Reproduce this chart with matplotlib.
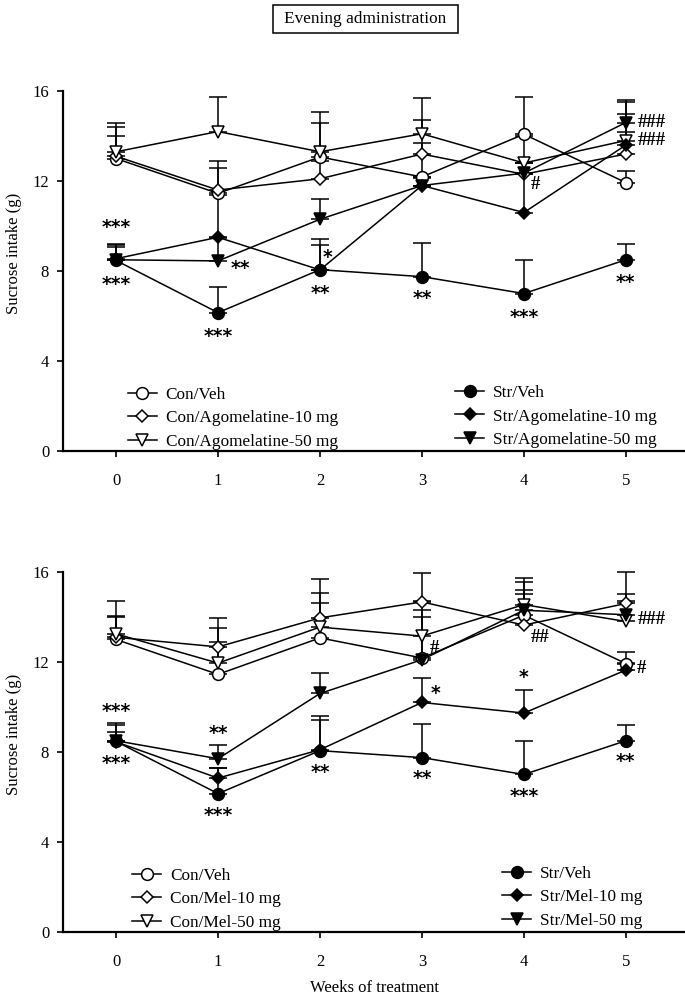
import matplotlib
matplotlib.use("Agg")
import matplotlib.pyplot as plt
from matplotlib.patches import Rectangle

plt.rcParams['font.family'] = ['Liberation Serif', 'DejaVu Serif']

weeks = [0, 1, 2, 3, 4, 5]

# shared control / stress vehicle groups
con_veh = [13.0, 11.45, 13.07, 12.18, 14.08, 11.93]
con_veh_err = [1.0, 1.45, 2.0, 2.55, 1.65, 0.5]
str_veh = [8.47, 6.15, 8.06, 7.75, 7.0, 8.5]
str_veh_err = [0.75, 1.15, 1.35, 1.5, 1.47, 0.68]

# top panel - agomelatine
con_ago10 = [13.1, 11.6, 12.1, 13.2, 12.3, 13.2]
con_ago10_err = [1.3, 1.0, 0.8, 0.5, 0.5, 1.8]
con_ago50 = [13.3, 14.2, 13.3, 14.1, 12.8, 13.8]
con_ago50_err = [1.3, 1.55, 1.3, 1.6, 1.2, 1.7]
str_ago10 = [8.55, 9.5, 8.05, 11.8, 10.6, 13.6]
str_ago10_err = [0.5, 1.9, 1.1, 0.4, 1.7, 0.6]
str_ago50 = [8.5, 8.45, 10.3, 11.8, 12.35, 14.6]
str_ago50_err = [0.65, 1.0, 0.9, 0.35, 0.45, 1.0]

# bottom panel - melatonin
con_mel10 = [13.1, 12.67, 13.96, 14.67, 13.64, 14.6]
con_mel10_err = [1.6, 1.3, 1.74, 1.3, 1.4, 1.4]
con_mel50 = [13.25, 11.95, 13.55, 13.15, 14.55, 13.8]
con_mel50_err = [0.8, 1.55, 1.05, 1.15, 1.0, 1.2]
str_mel10 = [8.45, 6.84, 8.1, 10.2, 9.73, 11.64]
str_mel10_err = [0.45, 0.45, 1.5, 1.1, 1.03, 0.3]
str_mel50 = [8.5, 7.7, 10.6, 12.1, 14.3, 14.1]
str_mel50_err = [0.8, 0.6, 0.9, 1.9, 0.9, 0.6]

top_labels = ['Con/Veh', 'Con/Agomelatine-10 mg', 'Con/Agomelatine-50 mg',
              'Str/Veh', 'Str/Agomelatine-10 mg', 'Str/Agomelatine-50 mg']
bot_labels = ['Con/Veh', 'Con/Mel-10 mg', 'Con/Mel-50 mg',
              'Str/Veh', 'Str/Mel-10 mg', 'Str/Mel-50 mg']

# significance marks: (x, y, text, ha)
top_marks = [(0, 9.95, '***', 'center'), (0, 7.4, '***', 'center'),
             (1.12, 8.1, '**', 'left'), (1, 5.1, '***', 'center'),
             (2.03, 8.6, '*', 'left'), (2, 7.0, '**', 'center'),
             (3, 6.8, '**', 'center'), (4, 5.95, '***', 'center'),
             (5, 7.5, '**', 'center')]
top_hash = [(4.07, 11.85, '#'), (5.12, 14.6, '###'), (5.12, 13.8, '###')]
bot_marks = [(0, 9.78, '***', 'center'), (0, 7.5, '***', 'center'),
             (1, 8.84, '**', 'center'), (1, 5.16, '***', 'center'),
             (2, 7.1, '**', 'center'), (3.09, 10.58, '*', 'left'),
             (3, 6.8, '**', 'center'), (4, 11.3, '*', 'center'),
             (4, 6.0, '***', 'center'), (5, 7.56, '**', 'center')]
bot_hash = [(3.08, 12.6, '#'), (4.07, 13.1, '##'), (5.12, 13.87, '###'),
            (5.11, 11.73, '#')]

styles = [dict(marker='o', mfc='white', ms=8.5),
          dict(marker='D', mfc='white', ms=6),
          dict(marker='v', mfc='white', ms=8.5),
          dict(marker='o', mfc='black', ms=8.5),
          dict(marker='D', mfc='black', ms=6),
          dict(marker='v', mfc='black', ms=8.5)]


def draw_panel(ax, series, errs, labels, marks, hashes, leg_x):
    for vals, err, lab, st in zip(series, errs, labels, styles):
        ax.errorbar(weeks, vals, yerr=[[0] * len(err), err], fmt='none',
                    ecolor='black', elinewidth=1.1, capsize=6.5, capthick=1.1,
                    zorder=2, clip_on=False)
    lines = []
    for vals, lab, st in zip(series, labels, styles):
        ln, = ax.plot(weeks, vals, color='black', lw=1.1, mec='black',
                      mew=1.1, label=lab, zorder=3, clip_on=False, **st)
        lines.append(ln)
    for x, y, t, ha in marks:
        ax.text(x, y, t, ha=ha, va='center', fontsize=13.5, fontweight='bold',
                family=['DejaVu Sans'])
    for x, y, t in hashes:
        ax.text(x, y, t, ha='left', va='center', fontsize=13.5,
                fontweight='bold')
    ax.set_xlim(-0.52, 5.58)
    ax.set_ylim(0, 16)
    ax.set_yticks([0, 4, 8, 12, 16])
    ax.set_xticks(weeks)
    ax.tick_params(direction='out', length=4, width=1.2, labelsize=12,
                   pad=6)
    ax.tick_params(axis='x', pad=12)
    for s in ['top', 'right']:
        ax.spines[s].set_visible(False)
    for s in ['left', 'bottom']:
        ax.spines[s].set_linewidth(1.6)
    ax.set_ylabel('Sucrose intake (g)', fontsize=12)
    ax.yaxis.set_label_coords(-0.066, 0.55)
    kw = dict(frameon=False, fontsize=12.4, loc='upper left', borderpad=0,
              borderaxespad=0, handlelength=1.7, handletextpad=0.5,
              labelspacing=0.42)
    leg1 = ax.legend(handles=lines[:3], bbox_to_anchor=(leg_x[0], 0.178), **kw)
    ax.add_artist(leg1)
    ax.legend(handles=lines[3:], bbox_to_anchor=(leg_x[1], 0.183), **kw)


fig = plt.figure(figsize=(6.85, 9.97), dpi=100)
ax1 = fig.add_axes([0.092, 0.5476, 0.908, 0.3611])
ax2 = fig.add_axes([0.092, 0.0652, 0.908, 0.3611])

draw_panel(ax1,
           [con_veh, con_ago10, con_ago50, str_veh, str_ago10, str_ago50],
           [con_veh_err, con_ago10_err, con_ago50_err, str_veh_err,
            str_ago10_err, str_ago50_err],
           top_labels, top_marks, top_hash, (0.104, 0.63))
draw_panel(ax2,
           [con_veh, con_mel10, con_mel50, str_veh, str_mel10, str_mel50],
           [con_veh_err, con_mel10_err, con_mel50_err, str_veh_err,
            str_mel10_err, str_mel50_err],
           bot_labels, bot_marks, bot_hash, (0.111, 0.706))
ax2.set_xlabel('Weeks of treatment', fontsize=12)
ax2.xaxis.set_label_coords(0.5, -0.133)

# boxed heading
fig.patches.append(Rectangle((273 / 685, 1 - 33 / 997), 185 / 685, 28 / 997,
                             transform=fig.transFigure, fill=False,
                             ec='black', lw=1.1))
fig.text(365 / 685, 1 - 19 / 997, 'Evening administration', ha='center',
         va='center', fontsize=12.4)

fig.savefig('out.png', dpi=100)
